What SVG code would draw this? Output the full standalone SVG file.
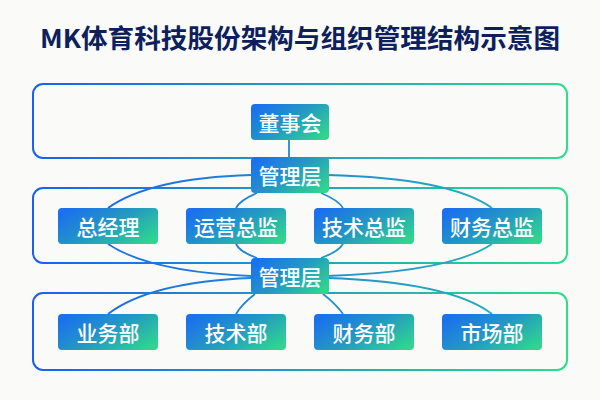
<svg xmlns="http://www.w3.org/2000/svg" width="600" height="400" viewBox="0 0 600 400">
<defs>
<linearGradient id="gb" x1="0" y1="0.2" x2="1" y2="0.8"><stop offset="0" stop-color="#1a70ee"/><stop offset="0.5" stop-color="#2499c2"/><stop offset="1" stop-color="#2fd590"/></linearGradient>
<linearGradient id="gs" x1="0" y1="0" x2="1" y2="0"><stop offset="0" stop-color="#1a5ff0"/><stop offset="1" stop-color="#2edc8c"/></linearGradient>
<linearGradient id="gl" gradientUnits="userSpaceOnUse" x1="33" y1="0" x2="567" y2="0"><stop offset="0" stop-color="#1a5ff0"/><stop offset="1" stop-color="#2ab8b0"/></linearGradient>
<style>
.ct{fill:none;stroke:url(#gs);stroke-width:2}
.bx{fill:url(#gb)}
.t{font-family:"Noto Sans CJK SC",sans-serif;font-size:21px;font-weight:500;fill:#fff;text-anchor:middle;dominant-baseline:central}
.c{fill:none;stroke:url(#gl);stroke-width:1.8}
</style>
</defs>
<rect width="600" height="400" fill="#fafbf8"/>
<text x="300" y="48" text-anchor="middle" font-family="Noto Sans CJK SC,sans-serif" font-size="26" font-weight="bold" fill="#0d1f5c" textLength="520" lengthAdjust="spacingAndGlyphs">MK体育科技股份架构与组织管理结构示意图</text>
<g id="containers">
<rect class="ct" x="33" y="84" width="534" height="74" rx="10"/>
<rect class="ct" x="33" y="188" width="534" height="75" rx="10"/>
<rect class="ct" x="33" y="293" width="534" height="77" rx="10"/>
</g>
<g id="connectors">
<line class="c" x1="289" y1="140" x2="289" y2="157"/>
<path class="c" d="M251 175 Q150 178 108 208"/>
<path class="c" d="M327 175 Q450 178 492 208"/>
<path class="c" d="M257 193 Q240 200 236 208"/>
<path class="c" d="M321 193 Q338 200 343 208"/>
<path class="c" d="M108 244 Q150 272 251 276"/>
<path class="c" d="M492 244 Q450 272 327 276"/>
<path class="c" d="M236 244 Q240 252 257 258"/>
<path class="c" d="M343 244 Q338 252 321 258"/>
<path class="c" d="M251 278 Q150 282 108 314"/>
<path class="c" d="M327 278 Q450 282 492 314"/>
<path class="c" d="M255 294 Q242 304 236 314"/>
<path class="c" d="M323 294 Q336 304 343 314"/>
</g>
<g id="n-dsh"><rect class="bx" x="251" y="104" width="78" height="36" rx="4"/><text class="t" x="290" y="122">董事会</text></g>
<g id="n-gl1"><rect class="bx" x="251" y="157" width="78" height="36" rx="4"/><text class="t" x="290" y="175">管理层</text></g>
<g id="n-zjl"><rect class="bx" x="58" y="208" width="100" height="36" rx="4"/><text class="t" x="108" y="226">总经理</text></g>
<g id="n-yy"><rect class="bx" x="186" y="208" width="100" height="36" rx="4"/><text class="t" x="236" y="226">运营总监</text></g>
<g id="n-js"><rect class="bx" x="314" y="208" width="100" height="36" rx="4"/><text class="t" x="364" y="226">技术总监</text></g>
<g id="n-cw"><rect class="bx" x="442" y="208" width="100" height="36" rx="4"/><text class="t" x="492" y="226">财务总监</text></g>
<g id="n-gl2"><rect class="bx" x="251" y="258" width="78" height="36" rx="4"/><text class="t" x="290" y="276">管理层</text></g>
<g id="n-yw"><rect class="bx" x="58" y="314" width="100" height="36" rx="4"/><text class="t" x="108" y="332">业务部</text></g>
<g id="n-jsb"><rect class="bx" x="186" y="314" width="100" height="36" rx="4"/><text class="t" x="236" y="332">技术部</text></g>
<g id="n-cwb"><rect class="bx" x="314" y="314" width="100" height="36" rx="4"/><text class="t" x="364" y="332">财务部</text></g>
<g id="n-sc"><rect class="bx" x="442" y="314" width="100" height="36" rx="4"/><text class="t" x="492" y="332">市场部</text></g>
</svg>
